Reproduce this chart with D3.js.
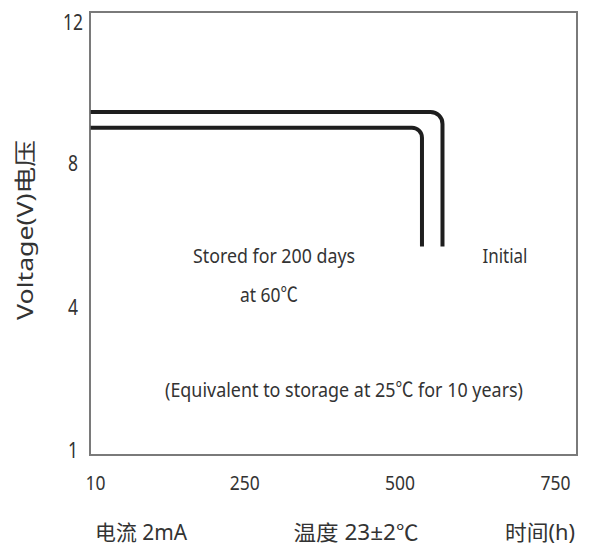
<!DOCTYPE html>
<html>
<head>
<meta charset="utf-8">
<script src="https://cdn.jsdelivr.net/npm/d3@7"></script>
<style>
  body { margin: 0; background: #fff; }
  text { font-family: "Noto Sans", "Noto Sans CJK SC", sans-serif; fill: #333; }
  .cjk { font-family: "Noto Sans CJK SC", sans-serif; }
</style>
</head>
<body>
<svg id="chart" width="601" height="547"></svg>
<script>
// tick labels
const xTicks = [10, 250, 500, 750];
const yTicks = [12, 8, 4, 1];

// series: hours vs volts (square corner gets rounded when drawn)
const initialHours = [3, 569, 569];
const initialVolts = [9.45, 9.45, 5.68];
const storedHours = [3, 536, 536];
const storedVolts = [9.0, 9.0, 5.68];

const svg = d3.select("#chart");
const frame = { left: 90, top: 12, right: 577, bottom: 455 };

// x is linear, y ticks are evenly spaced so use a piecewise scale
const x = d3.scaleLinear().domain([10, 750]).range([95, 555]);
const y = d3.scaleLinear().domain([1, 4, 8, 12]).range([450, 307, 163, 22]);

// helper: squeeze text to a measured width
function fit(sel, len) {
    sel.attr("textLength", len).attr("lengthAdjust", "spacingAndGlyphs");
}

// frame
svg.append("rect")
    .attr("x", frame.left).attr("y", frame.top)
    .attr("width", frame.right - frame.left)
    .attr("height", frame.bottom - frame.top)
    .attr("fill", "none")
    .attr("stroke", "#7a7a7a")
    .attr("stroke-width", 2);

// axes (labels only)
const gx = svg.append("g")
    .attr("transform", `translate(0,${frame.bottom})`)
    .call(d3.axisBottom(x).tickValues(xTicks).tickSize(0).tickPadding(0))
    .attr("font-size", null).attr("font-family", null);
gx.select(".domain").remove();
gx.selectAll("text")
    .attr("y", 35).attr("dy", 0)
    .style("font-size", "20px")
    .attr("fill", "#333")
    .each(function (d) { fit(d3.select(this), String(d).length * 10); });

const gy = svg.append("g")
    .attr("transform", `translate(${frame.left},0)`)
    .call(d3.axisLeft(y).tickValues(yTicks).tickSize(0))
    .attr("font-size", null).attr("font-family", null);
gy.select(".domain").remove();
gy.selectAll("text")
    .attr("x", -17).attr("dy", "0.36em")
    .attr("text-anchor", "middle")
    .style("font-size", "21px")
    .attr("fill", "#333")
    .each(function (d) { fit(d3.select(this), String(d).length * 10); });

// curves with rounded corner
function drawCurve(hours, volts, r) {
    const p = d3.path();
    p.moveTo(x(hours[0]), y(volts[0]));
    p.arcTo(x(hours[1]), y(volts[1]), x(hours[2]), y(volts[2]), r);
    p.lineTo(x(hours[2]), y(volts[2]));
    svg.append("path")
        .attr("d", p.toString())
        .attr("fill", "none")
        .attr("stroke", "#1e1e1e")
        .attr("stroke-width", 4);
}
drawCurve(initialHours, initialVolts, 12);
drawCurve(storedHours, storedVolts, 10);

// annotations; ℃ drawn with the CJK face so it is one glyph
function label(txt, cx, by, size, len) {
    const t = svg.append("text")
        .attr("x", cx).attr("y", by)
        .attr("text-anchor", "middle")
        .style("font-size", size + "px");
    txt.split(/(\u2103)/).filter(s => s).forEach(s => {
        t.append("tspan").attr("class", s === "\u2103" ? "cjk" : null).text(s);
    });
    fit(t, len);
    return t;
}
label("Stored for 200 days", 274, 263, 20, 162);
label("at 60\u2103", 269, 302, 20, 58);
label("Initial", 505, 263, 20, 45);
label("(Equivalent to storage at 25\u2103 for 10 years)", 344, 397, 20, 358);

// bottom captions
label("电流  2mA", 141, 540, 21, 92);
label("温度  23±2\u2103", 356, 540, 21, 125);
label("时间(h)", 540, 540, 21, 70);

// y title
svg.append("text")
    .attr("transform", "translate(33,230) rotate(-90)")
    .attr("text-anchor", "middle")
    .style("font-size", "22px")
    .attr("textLength", 180)
    .attr("lengthAdjust", "spacingAndGlyphs")
    .text("Voltage(V)电压");
</script>
</body>
</html>
